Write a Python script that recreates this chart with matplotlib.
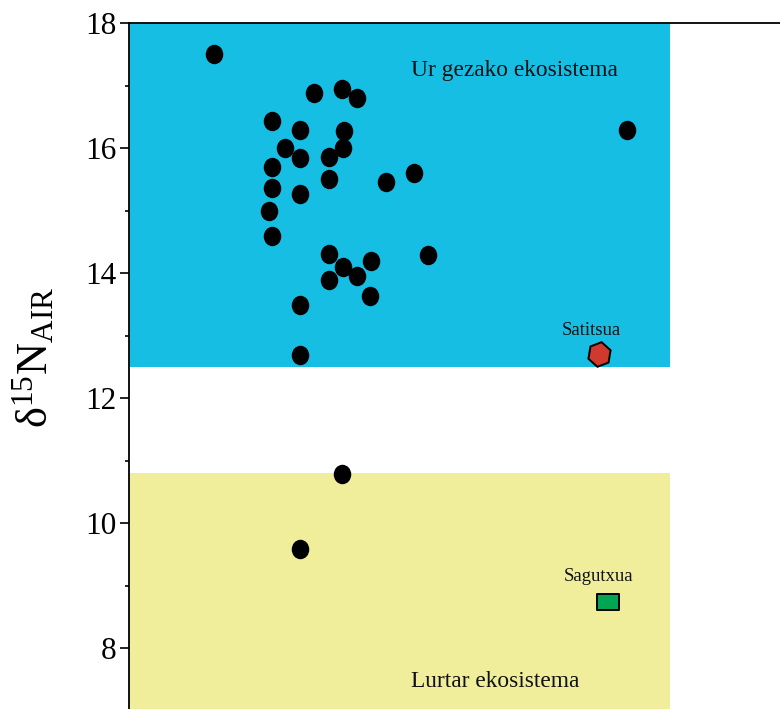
import numpy as np
import matplotlib
matplotlib.use("Agg")
import matplotlib.pyplot as plt
from matplotlib.path import Path
from matplotlib.patches import Rectangle

plt.rcParams["mathtext.fontset"] = "custom"
plt.rcParams["mathtext.rm"] = "Liberation Serif"
plt.rcParams["mathtext.it"] = "Liberation Serif:italic"

# ---- data (x in arbitrary units, y = d15N) ----
sample_x = [1.71, 3.70, 4.27, 4.56, 2.86, 3.42, 4.30, 3.12, 4.28, 2.86,
            3.42, 4.00, 4.00, 2.86, 3.42, 5.14, 5.70, 2.80, 2.86, 4.00,
            5.98, 4.28, 4.84, 4.56, 4.00, 4.83, 3.42, 3.42, 9.96, 4.27, 3.42]
sample_y = [17.51, 16.89, 16.95, 16.80, 16.44, 16.30, 16.27, 16.01, 16.00, 15.70,
            15.84, 15.86, 15.51, 15.36, 15.27, 15.46, 15.61, 14.99, 14.59, 14.31,
            14.30, 14.10, 14.19, 13.95, 13.90, 13.64, 13.50, 12.70, 16.29, 10.79, 9.59]

site_names = ["Satitsua", "Sagutxua"]
site_x = [9.40, 9.59]
site_y = [12.71, 8.75]

freshwater_range = (12.5, 18.0)
terrestrial_range = (7.0, 10.8)
zone_xmax = 10.82
zone_labels = ["Ur gezako ekosistema", "Lurtar ekosistema"]

yticks_major = [8, 10, 12, 14, 16, 18]
ytick_labels = ["8", "10", "12", "14", "16", "18"]

# ---- figure ----
W, H = 780, 709
fig = plt.figure(figsize=(W / 100, H / 100), dpi=100)
left = 128.5 / W
top_px, bot_px = 23.3, 711.0
ax = fig.add_axes([left, 1 - bot_px / H, 1 - left, (bot_px - top_px) / H])
ax.set_xlim(0, (W - 128.5) / 50)
ax.set_ylim(7, 18)

serif = ["Liberation Serif", "DejaVu Serif"]

# zones
ax.add_patch(Rectangle((0, freshwater_range[0]), zone_xmax,
                       freshwater_range[1] - freshwater_range[0],
                       facecolor="#17bee3", edgecolor="none", zorder=0))
ax.add_patch(Rectangle((0, terrestrial_range[0]), zone_xmax,
                       terrestrial_range[1] - terrestrial_range[0],
                       facecolor="#f0ee9b", edgecolor="none", zorder=0))

ax.text(7.71, 17.25, zone_labels[0], ha="center", va="center",
        fontsize=16.8, family=serif, color="#111111", zorder=3)
ax.text(7.33, 7.47, zone_labels[1], ha="center", va="center",
        fontsize=16.8, family=serif, color="#111111", zorder=3)

# ellipse marker (slightly taller than wide)
circ = Path.unit_circle()
ell = Path(circ.vertices * np.array([1.0, 1.12]), circ.codes)
ax.plot(sample_x, sample_y, linestyle="none", marker=ell, markersize=13,
        color="black", markeredgecolor="black", zorder=4)

# sites
hexm = matplotlib.markers.MarkerStyle("h")
hexm._transform = hexm.get_transform().rotate_deg(-10).scale(1.0, 1.06)
ax.plot(site_x[0], site_y[0], linestyle="none", marker=hexm, markersize=17,
        markerfacecolor="#d0392e", markeredgecolor="black", markeredgewidth=1.4, zorder=4)
rect_m = Path([(-1.28, -1), (1.28, -1), (1.28, 1), (-1.28, 1), (-1.28, -1)],
              [Path.MOVETO, Path.LINETO, Path.LINETO, Path.LINETO, Path.CLOSEPOLY])
ax.plot(site_x[1], site_y[1], linestyle="none", marker=rect_m, markersize=15.6,
        markerfacecolor="#00a651", markeredgecolor="black", markeredgewidth=1.4, zorder=4)

ax.text(9.26, 13.08, site_names[0], ha="center", va="center",
        fontsize=13.5, family=serif, color="#111111", zorder=3)
ax.text(9.40, 9.15, site_names[1], ha="center", va="center",
        fontsize=13.5, family=serif, color="#111111", zorder=3)

# axes styling
for s in ["right", "bottom"]:
    ax.spines[s].set_visible(False)
for s in ["left", "top"]:
    ax.spines[s].set_linewidth(1.3)
    ax.spines[s].set_color("black")
ax.set_xticks([])
ax.set_yticks(yticks_major)
ax.set_yticklabels(ytick_labels, fontsize=22.5, family=serif)
ax.set_yticks(np.arange(9, 18, 2), minor=True)
ax.tick_params(axis="y", which="major", length=6.5, width=1.2, direction="out", pad=2)
ax.tick_params(axis="y", which="minor", length=3.2, width=1.2, direction="out")

ax.set_ylabel(r"$\mathrm{δ}^{15}\mathrm{N}_{\mathrm{AIR}}$", fontsize=32)
ax.yaxis.set_label_coords(-0.111, 0.515)

fig.savefig("out.png", dpi=100)
